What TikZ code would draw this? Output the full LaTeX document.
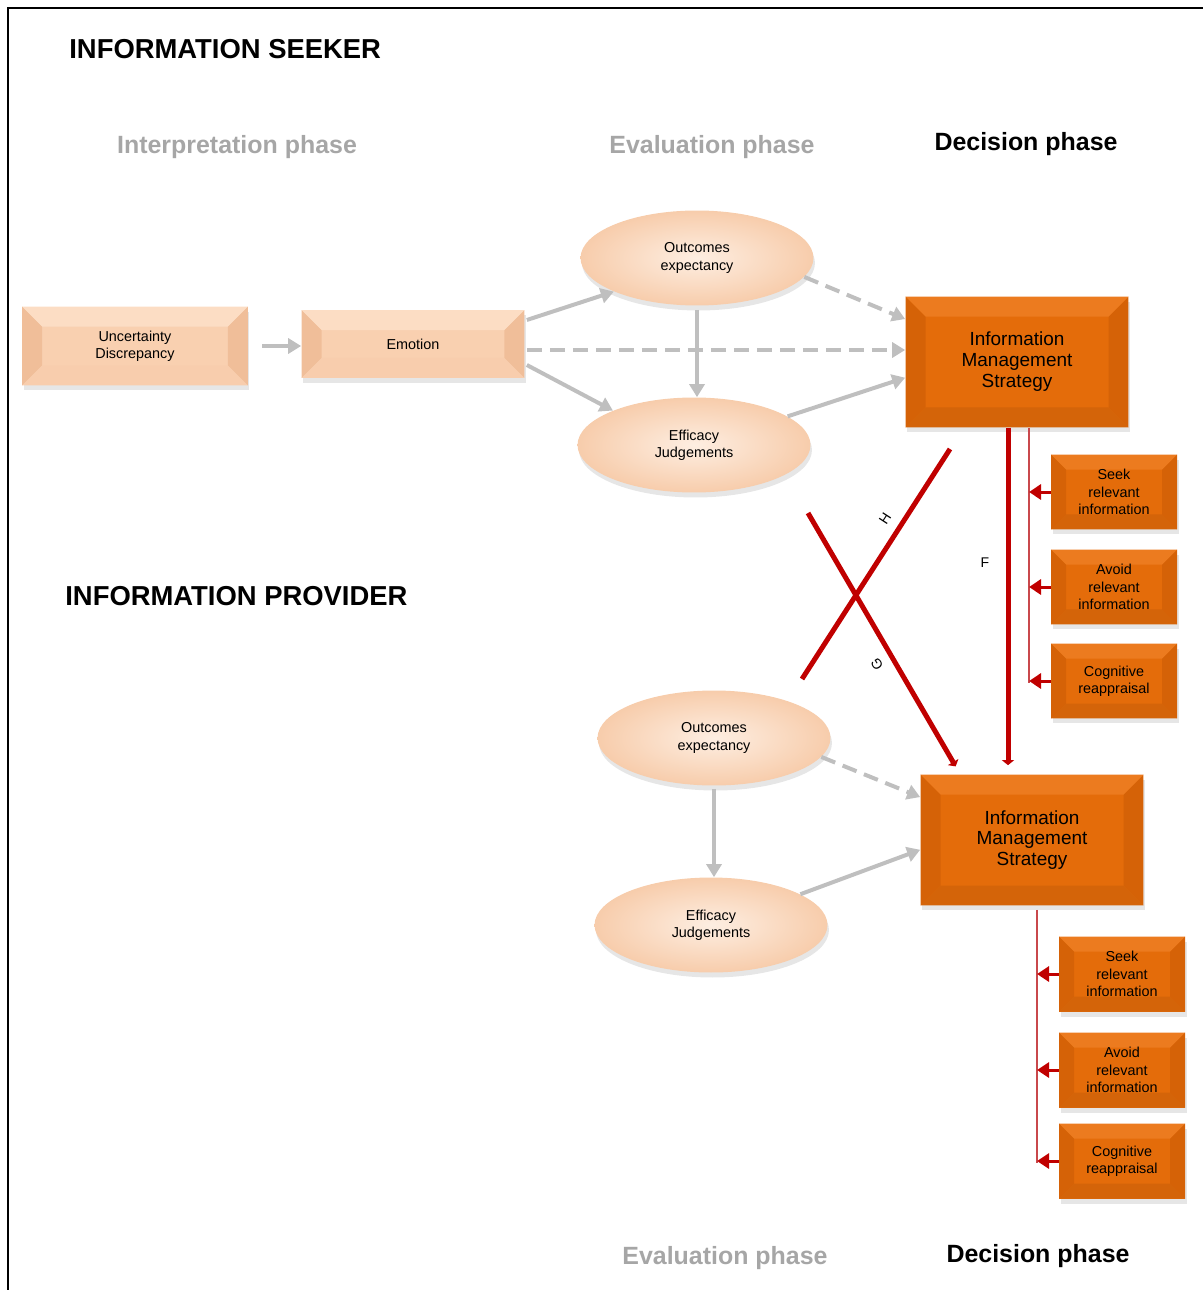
\documentclass[tikz,border=0pt]{standalone}
\usepackage{fontspec}
\setmainfont{Liberation Sans}
\usetikzlibrary{arrows.meta,shapes.geometric,shadows,calc}

\definecolor{peach}{HTML}{F9D0B0}
\definecolor{peachdark}{HTML}{F0BE99}
\definecolor{peachlight}{HTML}{FCDDC4}
\definecolor{boxorange}{HTML}{E46C0A}
\definecolor{orangedark}{HTML}{D56207}
\definecolor{orangelight}{HTML}{EC7B1F}
\definecolor{arrowgray}{HTML}{BFBFBF}
\definecolor{phasegray}{HTML}{A6A6A6}
\definecolor{darkred}{HTML}{C00000}
\definecolor{busred}{HTML}{C9484C}

% bevelled look of a box: sides, top, bottom, bevel size
\newcommand{\boxbevel}[4]{%
  \fill[#1] (path picture bounding box.south west) -- (path picture bounding box.north west)
    -- ([shift={(#4,-#4)}]path picture bounding box.north west)
    -- ([shift={(#4,#4)}]path picture bounding box.south west) -- cycle;
  \fill[#1] (path picture bounding box.south east) -- (path picture bounding box.north east)
    -- ([shift={(-#4,-#4)}]path picture bounding box.north east)
    -- ([shift={(-#4,#4)}]path picture bounding box.south east) -- cycle;
  \fill[#2] (path picture bounding box.north west) -- (path picture bounding box.north east)
    -- ([shift={(-#4,-#4)}]path picture bounding box.north east)
    -- ([shift={(#4,-#4)}]path picture bounding box.north west) -- cycle;
  \fill[#3] (path picture bounding box.south west) -- (path picture bounding box.south east)
    -- ([shift={(-#4,#4)}]path picture bounding box.south east)
    -- ([shift={(#4,#4)}]path picture bounding box.south west) -- cycle;
}

\tikzset{
  boxtext/.style={font=\fontsize{8.2}{9.9}\selectfont, align=center, text=black},
  boxshadow/.style={drop shadow={shadow xshift=0.03cm, shadow yshift=-0.1cm, opacity=0.2}},
  peachbox/.style={boxtext, rectangle, inner sep=0pt, minimum width=4.5cm, minimum height=1.5cm,
    fill=peach, boxshadow, path picture={\boxbevel{peachdark}{peachlight}{peach!85!peachdark}{0.4cm}}},
  optbox/.style={boxtext, rectangle, inner sep=0pt, minimum width=2.52cm, minimum height=1.5cm,
    fill=boxorange, boxshadow, path picture={\boxbevel{orangedark}{orangelight}{boxorange!93!black}{0.3cm}}},
  imsbox/.style={optbox, font=\fontsize{10.8}{11.9}\selectfont, minimum width=4.46cm, minimum height=2.62cm,
    path picture={\boxbevel{orangedark}{orangelight}{boxorange!93!black}{0.4cm}}},
  oval/.style={boxtext, ellipse, inner sep=0pt, minimum width=4.66cm, minimum height=1.9cm,
    inner color=peachlight!50!white, outer color=peach!80!peachdark, boxshadow},
  heading/.style={font=\fontsize{15.6}{18}\selectfont\bfseries, anchor=west, inner sep=0pt},
  phase/.style={font=\fontsize{14.2}{17}\selectfont\bfseries, inner sep=0pt},
  grayarrow/.style={draw=arrowgray, line width=0.08cm, -{Triangle[length=0.26cm,width=0.3cm]}},
  graydash/.style={grayarrow, dash pattern=on 0.3cm off 0.16cm},
  bigred/.style={draw=darkred, line width=0.1cm},
  redtip/.style={draw=darkred, line width=0.06cm, -{Triangle[length=0.24cm,width=0.3cm]}},
  bus/.style={draw=busred, line width=0.04cm},
  lbl/.style={font=\fontsize{8}{9}\selectfont, inner sep=0pt}
}

\begin{document}
\begin{tikzpicture}[x=0.02cm,y=-0.02cm]
  \useasboundingbox (0,0) rectangle (1203,1290);
  \draw[line width=0.05cm] (8,1290) -- (8,8) -- (1203,8);

  % titles
  \node[heading] (seeker) at (69,49) {INFORMATION SEEKER};
  \node[heading] (provider) at (65,596) {INFORMATION PROVIDER};
  \node[phase, text=phasegray] (interp) at (237,147) {Interpretation phase};
  \node[phase, text=phasegray] (evalS) at (712,147) {Evaluation phase};
  \node[phase] (decS) at (1026,144) {Decision phase};
  \node[phase, text=phasegray] (evalP) at (725,1258) {Evaluation phase};
  \node[phase] (decP) at (1038,1256) {Decision phase};

  % information seeker
  \node[peachbox, minimum width=4.52cm, minimum height=1.58cm] (unc) at (135,346) {Uncertainty\\Discrepancy};
  \node[peachbox, minimum width=4.46cm, minimum height=1.36cm] (emo) at (413,344) {Emotion};
  \node[oval] (outS) at (697,258) {Outcomes\\expectancy};
  \node[oval] (effS) at (694,445) {Efficacy\\Judgements};
  \node[imsbox] (imsS) at (1017,362) {Information\\Management\\Strategy};
  \node[optbox] (seekS) at (1114,492) {Seek\\relevant\\information};
  \node[optbox] (avoidS) at (1114,587) {Avoid\\relevant\\information};
  \node[optbox] (cogS) at (1114,681) {Cognitive\\reappraisal};

  % information provider
  \node[oval] (outP) at (714,738) {Outcomes\\expectancy};
  \node[oval] (effP) at (711,925) {Efficacy\\Judgements};
  \node[imsbox] (imsP) at (1032,840) {Information\\Management\\Strategy};
  \node[optbox] (seekP) at (1122,974) {Seek\\relevant\\information};
  \node[optbox] (avoidP) at (1122,1070) {Avoid\\relevant\\information};
  \node[optbox] (cogP) at (1122,1161) {Cognitive\\reappraisal};

  % gray paths
  \draw[grayarrow, shorten <=0.28cm] (unc.east) -- (unc.east -| emo.west);
  \draw[grayarrow] ($(emo.east)+(2,-24)$) -- (outS.202);
  \draw[graydash] ($(emo.east)+(2,6)$) -- ($(emo.east -| imsS.west)+(0,6)$);
  \draw[grayarrow] ($(emo.east)+(2,21)$) -- (effS.157);
  \draw[grayarrow, shorten <=0.08cm] (outS.south) -- (outS.south |- effS.north);
  \draw[graydash] (outS.-10) -- (imsS.159);
  \draw[grayarrow] (effS.17) -- (imsS.188);

  \draw[grayarrow, shorten <=0.06cm] (outP.south) -- (outP.south |- effP.north);
  \draw[graydash] (outP.-10) -- (imsP.159);
  \draw[grayarrow] (effP.19) -- (imsP.185);

  % red links between the two sides
  \coordinate (fTop) at ($(imsS.south)+(-9,0)$);
  \draw[bigred, -{Triangle[length=0.1cm,width=0.24cm]}, shorten >=0.18cm] (fTop) -- (fTop |- imsP.north);
  \coordinate (hA) at (950,449);
  \coordinate (hB) at (802,679);
  \draw[bigred] (hA) -- (hB);
  \coordinate (gA) at (808,513);
  \draw[bigred, -{Triangle[length=0.1cm,width=0.24cm]}, shorten >=0.18cm] (gA) -- ($(imsP.north west)+(40,0)$);
  \node[lbl] (fLbl) at (985,563) {F};
  \node[lbl, rotate=57] (hLbl) at (885,519) {H};
  \node[lbl, rotate=121] (gLbl) at (877,664) {G};

  % strategy options
  \coordinate (busS) at ($(imsS.south)+(12,0)$);
  \draw[bus] (busS) -- ($(busS |- cogS.west)+(0,2)$);
  \foreach \n in {seekS,avoidS,cogS}
    \draw[redtip] (\n.west) -- (\n.west -| busS);
  \coordinate (busP) at ($(imsP.south)+(5,4)$);
  \draw[bus] (busP) -- ($(busP |- cogP.west)+(0,2)$);
  \foreach \n in {seekP,avoidP,cogP}
    \draw[redtip] (\n.west) -- (\n.west -| busP);
\end{tikzpicture}
\end{document}
